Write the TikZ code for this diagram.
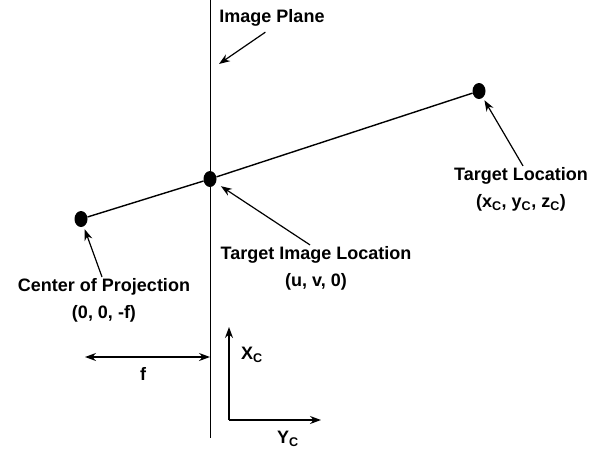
\documentclass[tikz,border=0pt]{standalone}
\usepackage{fontspec}
\setmainfont{Liberation Sans}
\usetikzlibrary{positioning, shapes.geometric, arrows.meta}

\begin{document}
\begin{tikzpicture}[
    x=1pt, y=-1pt,
    every node/.style={font=\fontsize{18}{27}\selectfont\bfseries, align=center, inner sep=1pt},
    dot/.style={ellipse, fill=black, minimum width=13pt, minimum height=16pt, inner sep=0pt},
    arrow/.style={-{Stealth[length=11pt, width=8pt]}, line width=1.2pt},
    dimarrow/.style={{Stealth[length=11pt, width=8pt]}-{Stealth[length=11pt, width=8pt]}, line width=1.2pt},
    ray/.style={line width=1.4pt},
    plane/.style={line width=1pt}
]
\useasboundingbox (0,0) rectangle (594,453);

% Points
\node (cop) [dot] at (81,219) {};
\node (tip) [dot] at (210,179) {};
\node (tgt) [dot] at (479,91) {};

\coordinate (plane_top) at (210,0);
\coordinate (plane_bot) at (210,438);
\coordinate (plane_pt) at (219,64);
\coordinate (f_start) at (85,357);
\coordinate (f_end) at (210,357);
\coordinate (origin) at (229,420);
\coordinate (xc_end) at (229,327);
\coordinate (yc_end) at (321,420);

% Labels
\node (plane_lbl) at (272,18) {Image Plane};
\node (cop_lbl) at (104,300) {Center of Projection\\(0, 0, -f)};
\node (tip_lbl) at (316,268) {Target Image Location\\(u, v, 0)};
\node (tgt_lbl) at (521,189) {Target Location\\(x\textsubscript{C}, y\textsubscript{C}, z\textsubscript{C})};
\node (f_lbl) at (143,374) {f};
\node (xc_lbl) at (252,355) {X\textsubscript{C}};
\node (yc_lbl) at (288,439) {Y\textsubscript{C}};

% Edges
\draw[plane] (plane_top) -- (plane_bot);
\draw[ray] (cop) -- (tip);
\draw[ray] (tip) -- (tgt);

\draw[arrow, shorten <=8pt] (plane_lbl.south) -- (plane_pt);
\draw[arrow, shorten >=6pt] ([xshift=-6pt]tip_lbl.north) -- (tip);
\draw[arrow, shorten >=3pt] ([xshift=-2pt]cop_lbl.north) -- (cop);
\draw[arrow, shorten >=3pt] ([xshift=2pt]tgt_lbl.north) -- (tgt);

\draw[dimarrow] (f_start) -- (f_end);
\draw[arrow] (origin) -- (xc_end);
\draw[arrow] (origin) -- (yc_end);

\end{tikzpicture}
\end{document}
